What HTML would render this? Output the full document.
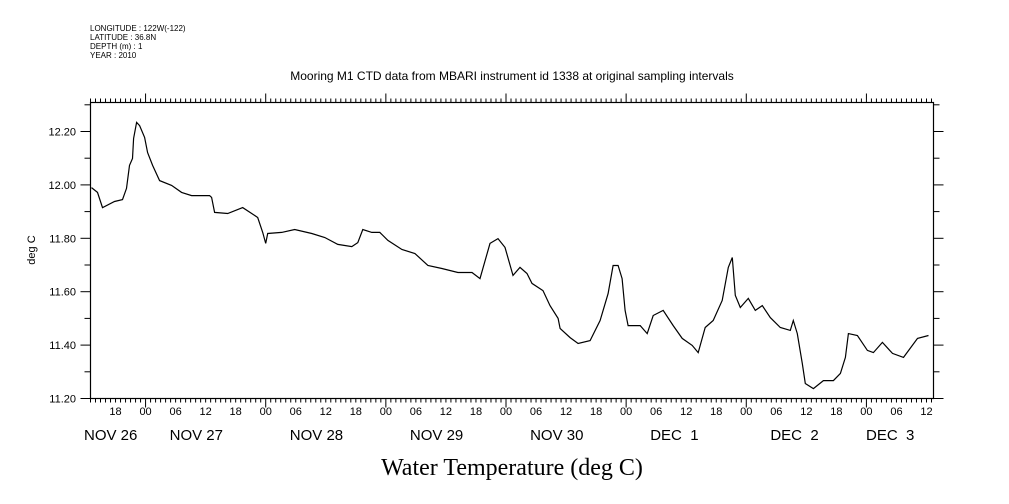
<!DOCTYPE html>
<html><head><meta charset="utf-8"><style>
body{margin:0;background:#fff;}
svg{display:block;font-family:"Liberation Sans",sans-serif;}
</style></head><body>
<svg width="1009" height="504" viewBox="0 0 1009 504" id="c">
<g font-size="8" fill="#000">
<text x="90" y="31">LONGITUDE : 122W(-122)</text>
<text x="90" y="40">LATITUDE : 36.8N</text>
<text x="90" y="49">DEPTH (m) : 1</text>
<text x="90" y="58">YEAR : 2010</text>
</g>
<text x="512" y="80" font-size="12" text-anchor="middle">Mooring M1 CTD data from MBARI instrument id 1338 at original sampling intervals</text>
<text x="35" y="250" font-size="11" text-anchor="middle" transform="rotate(-90 35 250)">deg C</text>
<text x="512" y="475" font-size="24" font-family="Liberation Serif, serif" text-anchor="middle">Water Temperature (deg C)</text>
<rect x="90.5" y="102.5" width="843" height="296" fill="none" stroke="#000" stroke-width="1.2"/>
<g id="axes"></g>
<path id="line" fill="none" stroke="#000" stroke-width="1.2"/>
</svg>
<script>
const hours=[0.2,1.4,2.4,4.8,6.4,7.2,7.8,8.4,8.6,9.2,9.8,10.8,11.4,12.4,13.8,16.2,18.2,20.2,23.8,24.2,24.8,27.4,30.4,32.2,33.4,34.4,35,35.4,38.2,40.8,44.2,46.8,49.4,52.2,53.4,54.4,56.2,57.8,59.4,62.2,64.8,67.4,70.2,73.4,76.2,77.8,79.8,81.4,82.8,84.4,85.8,87.2,88.2,90.4,91.8,93.4,93.8,95.8,97.4,99.8,101.8,103.4,104.4,105.4,106.2,106.8,107.4,109.8,111.2,112.4,114.4,116.4,118.2,120.2,121.4,122.8,124.4,126.2,127.4,128.2,128.8,129.8,131.4,132.8,134.2,135.8,137.8,139.8,140.4,141.2,142.2,142.8,144.4,146.4,148.4,149.8,150.8,151.4,153.2,155.2,156.4,158.2,160.2,162.4,165.2,167.4];
const temps=[11.990,11.972,11.915,11.938,11.945,11.987,12.073,12.099,12.174,12.234,12.222,12.178,12.121,12.073,12.016,11.998,11.972,11.960,11.960,11.953,11.897,11.893,11.915,11.893,11.878,11.822,11.781,11.818,11.822,11.833,11.818,11.803,11.777,11.769,11.784,11.833,11.822,11.822,11.792,11.758,11.743,11.698,11.687,11.672,11.672,11.649,11.781,11.799,11.766,11.661,11.691,11.668,11.631,11.604,11.548,11.500,11.462,11.428,11.406,11.417,11.492,11.593,11.698,11.698,11.649,11.530,11.473,11.473,11.443,11.511,11.530,11.473,11.425,11.399,11.372,11.466,11.492,11.567,11.691,11.728,11.586,11.541,11.575,11.530,11.548,11.503,11.466,11.455,11.492,11.443,11.331,11.256,11.237,11.267,11.267,11.294,11.354,11.443,11.436,11.380,11.372,11.410,11.369,11.354,11.425,11.436];
const yTickLabels=["11.20","11.40","11.60","11.80","12.00","12.20"];
const dayLabels=["NOV 26","NOV 27","NOV 28","NOV 29","NOV 30","DEC  1","DEC  2","DEC  3"];
const startHourOfDay=13, totalHours=168.4;
const X=h=>90.5+h*(843/totalHours);
const Y=v=>398.5-(v-11.2)*267;
const ns="http://www.w3.org/2000/svg";
const ax=document.getElementById('axes');
function ln(x1,y1,x2,y2,name){const l=document.createElementNS(ns,'line');l.setAttribute('x1',x1);l.setAttribute('y1',y1);l.setAttribute('x2',x2);l.setAttribute('y2',y2);l.setAttribute('stroke','#000');


ax.appendChild(l);}
function tx(x,y,s,size,anchor,name){const t=document.createElementNS(ns,'text');t.setAttribute('x',x);t.setAttribute('y',y);t.setAttribute('font-size',size);t.setAttribute('text-anchor',anchor);t.setAttribute('xml:space','preserve');t.style.whiteSpace='pre';t.textContent=s;


ax.appendChild(t);}
for(let h=0;h<=totalHours;h++){
  const hod=(h+startHourOfDay)%24;const x=X(h);
  const len=hod===0?9:4;
  ln(x,102.5,x,102.5-len,'x-tick-top');
  ln(x,398.5,x,398.5+len,'x-tick-bottom');
  if(hod%6===0) tx(x,415,String(hod).padStart(2,'0'),11,'middle','x-tick-label');
}
dayLabels.forEach((d,i)=>{
  let x=X(i*24+12-startHourOfDay)-36;
  if(x<84)x=84; if(i===7)x=866;
  tx(x,440,d,15,'start','date-label');
});
for(let k=0;k<=11;k++){
  const v=11.2+k*0.1, y=Y(v), len=k%2===0?10:6;
  ln(90.5-len,y,90.5,y,'y-tick-left');
  ln(933.5,y,933.5+len,y,'y-tick-right');
}
yTickLabels.forEach(s=>tx(76,Y(parseFloat(s))+4,s,11,'end','y-tick-label'));
document.getElementById('line').setAttribute('d',hours.map((h,i)=>(i?'L':'M')+X(h).toFixed(1)+' '+Y(temps[i]).toFixed(1)).join(' '));
</script>
</body></html>
